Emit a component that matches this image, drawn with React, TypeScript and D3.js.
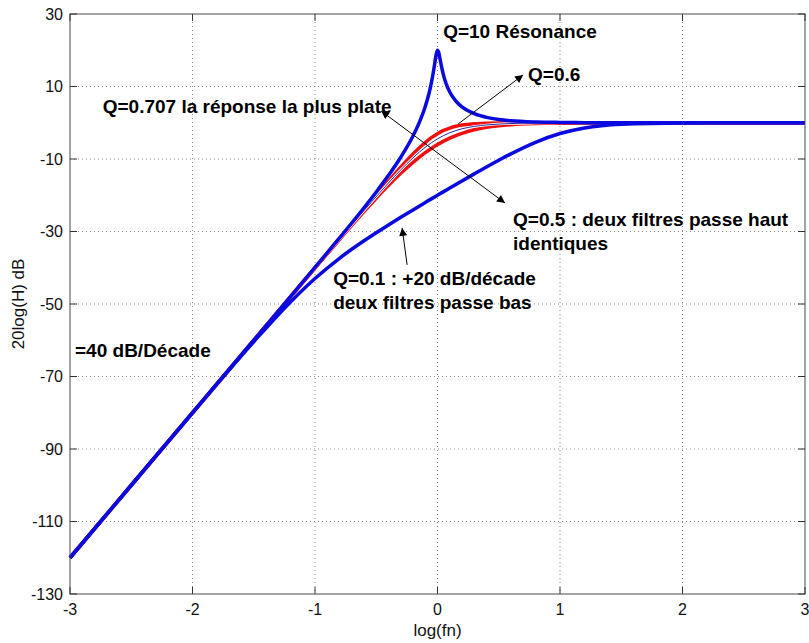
import React from "react";
import * as d3 from "d3";

// ---- data ----
const X_COMMON = [-3, -2.5, -2, -1.5, -1.2, -1, -0.8, -0.6, -0.5, -0.4, -0.3, -0.2, -0.15, -0.1, -0.05, 0, 0.05, 0.1, 0.15, 0.2, 0.3, 0.4, 0.5, 0.6, 0.8, 1, 1.2, 1.5, 2, 2.5, 3];
const Q01 = [-120, -100, -80.04, -60.41, -49.43, -42.97, -37.39, -32.57, -30.34, -28.19, -26.1, -24.04, -23.02, -22.01, -21.0, -20.0, -19.0, -18.01, -17.02, -16.04, -14.1, -12.19, -10.34, -8.57, -5.39, -2.97, -1.43, -0.41, -0.04, 0, 0];
const Q05 = [-120, -100, -80, -60.01, -48.03, -40.09, -32.22, -24.53, -20.83, -17.28, -13.95, -10.91, -9.53, -8.25, -7.08, -6.02, -5.08, -4.25, -3.53, -2.91, -1.95, -1.28, -0.83, -0.53, -0.22, -0.09, -0.03, -0.01, 0, 0, 0];
const Q06 = [-120, -100, -80, -60, -48.01, -40.03, -32.09, -24.22, -20.37, -16.6, -13.0, -9.67, -8.15, -6.76, -5.52, -4.44, -3.52, -2.76, -2.15, -1.67, -1.0, -0.6, -0.37, -0.22, -0.09, -0.03, -0.01, 0, 0, 0, 0];
const Q0707 = [-120, -100, -80, -60, -48.0, -40.0, -32.0, -24.02, -20.04, -16.11, -12.27, -8.64, -6.97, -5.46, -4.12, -3.01, -2.12, -1.46, -0.97, -0.64, -0.27, -0.11, -0.04, -0.02, 0, 0, 0, 0, 0, 0, 0];
const X_Q10 = [-3, -2.5, -2, -1.5, -1.2, -1, -0.8, -0.6, -0.5, -0.4, -0.3, -0.2, -0.15, -0.1, -0.07, -0.05, -0.03, -0.02, -0.01, 0, 0.01, 0.02, 0.03, 0.05, 0.07, 0.1, 0.15, 0.2, 0.3, 0.4, 0.5, 0.6, 0.8, 1, 1.2, 1.5, 2, 2.5, 3];
const Q10 = [-120, -100, -80, -60, -47.97, -39.91, -31.78, -23.44, -19.09, -14.51, -9.51, -3.64, -0.05, 4.46, 8.0, 10.99, 14.76, 16.93, 18.96, 20.0, 19.36, 17.73, 15.96, 12.99, 10.8, 8.46, 5.95, 4.36, 2.49, 1.49, 0.91, 0.56, 0.22, 0.09, 0.03, 0.01, 0, 0, 0];

const X_TICKS = [-3, -2, -1, 0, 1, 2, 3];
const Y_TICKS = [-130, -110, -90, -70, -50, -30, -10, 10, 30];

// annotations in data coordinates
const LABELS = [
  { text: ["Q=10 Résonance"], x: 0.046, y: 23.4 },
  { text: ["Q=0.6"], x: 0.739, y: 11.5 },
  { text: ["Q=0.707 la réponse la plus plate"], x: -2.733, y: 2.7 },
  { text: ["Q=0.5 : deux filtres passe haut", "identiques"], x: 0.617, y: -28.5 },
  { text: ["Q=0.1 : +20 dB/décade", "deux filtres passe bas"], x: -0.852, y: -44.8 },
  { text: ["=40 dB/Décade"], x: -2.959, y: -64.6 },
];
const ARROWS = [
  { x1: -0.46, y1: 3.24, x2: 0.551, y2: -22.14, both: true },
  { x1: 0.17, y1: -0.3, x2: 0.699, y2: 13.2, both: false },
  { x1: -0.248, y1: -39.2, x2: -0.289, y2: -29.0, both: false },
];

const W = 809, H = 643;
const M = { left: 70, right: 4, top: 14, bottom: 49 };

export default function App() {
  const x = d3.scaleLinear().domain([-3, 3]).range([M.left, W - M.right]);
  const y = d3.scaleLinear().domain([-130, 30]).range([H - M.bottom, M.top]);
  const line = d3
    .line<[number, number]>()
    .x((d) => x(d[0]))
    .y((d) => y(d[1]))
    .curve(d3.curveMonotoneX);
  const pts = (xs: number[], ys: number[]) => xs.map((v, i) => [v, ys[i]] as [number, number]);

  const blue = "#0a0ae0";
  const red = "#f01010";
  const x0 = x(-3), x1 = x(3), y0 = y(-130), y1 = y(30);
  const font = "'Liberation Sans', Arial, sans-serif";

  return (
    <svg width={W} height={H} style={{ position: "absolute", left: 0, top: 0, background: "#fff" }} fontFamily={font}>
      <defs>
        <marker id="ah" viewBox="0 0 10 10" refX="10" refY="5" markerWidth="11" markerHeight="8" markerUnits="userSpaceOnUse" orient="auto-start-reverse">
          <path d="M0,0 L10,5 L0,10 z" fill="#000" />
        </marker>
      </defs>
      <rect x={x0} y={y1} width={x1 - x0} height={y0 - y1} fill="#fff" />
      {/* grid */}
      {X_TICKS.slice(1, -1).map((t) => (
        <line key={"gx" + t} x1={x(t)} x2={x(t)} y1={y1} y2={y0} stroke="#8a8a8a" strokeWidth={1} strokeDasharray="1,3" />
      ))}
      {Y_TICKS.slice(1, -1).map((t) => (
        <line key={"gy" + t} x1={x0} x2={x1} y1={y(t)} y2={y(t)} stroke="#8a8a8a" strokeWidth={1} strokeDasharray="1,3" />
      ))}
      {/* curves */}
      <path d={line(pts(X_COMMON, Q05)) || ""} fill="none" stroke={red} strokeWidth={3.5} />
      <path d={line(pts(X_COMMON, Q0707)) || ""} fill="none" stroke={red} strokeWidth={3.5} />
      <path d={line(pts(X_COMMON, Q06)) || ""} fill="none" stroke="#fff" strokeWidth={2.5} />
      <path d={line(pts(X_COMMON, Q06)) || ""} fill="none" stroke="#2a2a9a" strokeWidth={1} />
      <path d={line(pts(X_COMMON, Q01)) || ""} fill="none" stroke={blue} strokeWidth={3.5} strokeLinejoin="round" />
      <path d={line(pts(X_Q10, Q10)) || ""} fill="none" stroke={blue} strokeWidth={3.5} strokeLinejoin="round" />
      {/* axes box */}
      <rect x={x0} y={y1} width={x1 - x0} height={y0 - y1} fill="none" stroke="#4a4a4a" strokeWidth={1} />
      {X_TICKS.map((t) => (
        <g key={"tx" + t}>
          <line x1={x(t)} x2={x(t)} y1={y0} y2={y0 - 7} stroke="#333" />
          <line x1={x(t)} x2={x(t)} y1={y1} y2={y1 + 7} stroke="#333" />
          <text x={x(t)} y={y0 + 21} textAnchor="middle" fontSize={16} fill="#111">
            {t}
          </text>
        </g>
      ))}
      {Y_TICKS.map((t) => (
        <g key={"ty" + t}>
          <line x1={x0} x2={x0 + 7} y1={y(t)} y2={y(t)} stroke="#333" />
          <line x1={x1} x2={x1 - 7} y1={y(t)} y2={y(t)} stroke="#333" />
          <text x={x0 - 7} y={y(t)} dy="0.35em" textAnchor="end" fontSize={16} fill="#111">
            {t}
          </text>
        </g>
      ))}
      <text x={(x0 + x1) / 2} y={636} textAnchor="middle" fontSize={17} fill="#111">
        log(fn)
      </text>
      <text transform={`translate(24,${(y0 + y1) / 2}) rotate(-90)`} textAnchor="middle" fontSize={17} fill="#111">
        20log(H) dB
      </text>
      {/* arrows */}
      {ARROWS.map((a, i) => (
        <line
          key={"ar" + i}
          x1={x(a.x1)}
          y1={y(a.y1)}
          x2={x(a.x2)}
          y2={y(a.y2)}
          stroke="#000"
          strokeWidth={1}
          markerEnd="url(#ah)"
          markerStart={a.both ? "url(#ah)" : undefined}
        />
      ))}
      {/* labels */}
      {LABELS.map((l, i) => (
        <text key={"lb" + i} x={x(l.x)} y={y(l.y)} fontSize={19} fontWeight="bold" fill="#000">
          {l.text.map((s, j) => (
            <tspan key={j} x={x(l.x)} dy={j === 0 ? 0 : 24}>
              {s}
            </tspan>
          ))}
        </text>
      ))}
    </svg>
  );
}
